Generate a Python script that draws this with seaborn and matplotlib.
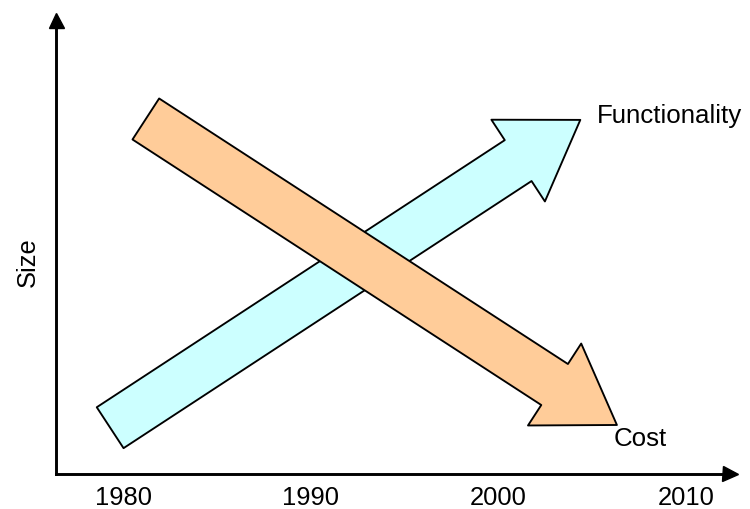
import matplotlib
matplotlib.use("Agg")
import matplotlib.pyplot as plt
import seaborn as sns

sns.set_theme(style="white")
plt.rcParams["font.family"] = ["Liberation Sans", "DejaVu Sans"]

# Axis ticks (years)
years = [1980, 1990, 2000, 2010]

# Trend arrows: (start year, start size) -> (end year, end size)
trend_names = ["Functionality", "Cost"]
trend_start_year = [1979.3, 1981.2]
trend_start_size = [10.2, 78.2]
trend_end_year = [2004.35, 2006.3]
trend_end_size = [78.0, 10.8]
trend_colors = ["#CCFFFF", "#FFCC99"]

# Text labels next to each arrow head
label_year = [2005.25, 2006.15]
label_size = [77.6, 6.3]

fig = plt.figure(figsize=(7.5, 5.1), dpi=100)
ax = fig.add_axes([0.0743, 0.0686, 0.8984, 0.8902])

ax.set_xlim(1976.4, 2012.3)
ax.set_ylim(0, 100)

# Block arrows (sizes in points; mutation_scale = 72pt = 100px)
style = "simple,head_length=0.743,head_width=0.977,tail_width=0.489"
for x0, y0, x1, y1, c in zip(trend_start_year, trend_start_size,
                             trend_end_year, trend_end_size, trend_colors):
    ax.annotate("", xy=(x1, y1), xytext=(x0, y0),
                xycoords="data", textcoords="data",
                arrowprops=dict(arrowstyle=style, mutation_scale=72,
                                facecolor=c, edgecolor="black", lw=1.35,
                                shrinkA=0, shrinkB=0))

for name, lx, ly in zip(trend_names, label_year, label_size):
    ax.text(lx, ly, name, ha="left", va="baseline", fontsize=18.6,
            color="black")

# Axes as arrows
sns.despine(ax=ax, top=True, right=True)
for side in ("left", "bottom"):
    ax.spines[side].set_linewidth(2.1)
    ax.spines[side].set_color("black")
ax.plot(1, 0, ">", color="black", ms=10.8, transform=ax.transAxes, clip_on=False)
ax.plot(0, 1, "^", color="black", ms=10.8, transform=ax.transAxes, clip_on=False)

ax.set_xticks(years)
ax.set_xticklabels([str(y) for y in years])
ax.set_yticks([])
ax.tick_params(axis="x", length=0, pad=8, labelsize=18.4, labelcolor="black")
ax.set_ylabel("Size", fontsize=18.4, color="black")
ax.yaxis.set_label_coords(-0.023, 0.468)
ax.grid(False)

fig.savefig("out.png", dpi=100)
